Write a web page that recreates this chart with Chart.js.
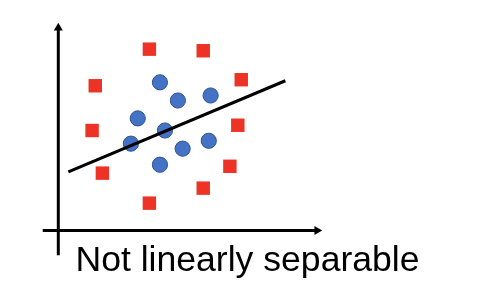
<!DOCTYPE html>
<html>
<head>
<meta charset="utf-8">
<script src="https://cdn.jsdelivr.net/npm/chart.js@4"></script>
<style>
  html, body { margin: 0; padding: 0; background: #ffffff; }
  #wrap { width: 482px; height: 308px; }
</style>
</head>
<body>
<div id="wrap"><canvas id="grafico" width="482" height="308"></canvas></div>
<script>
// Pontos da classe "quadrado" (vermelho)
const quadradosX = [3.45, 5.49, 6.93, 1.40, 1.28, 6.80, 6.50, 1.67, 5.49, 3.45];
const quadradosY = [6.89, 6.83, 5.73, 5.50, 3.80, 4.00, 2.44, 2.18, 1.61, 1.04];

// Pontos da classe "círculo" (azul)
const circulosX = [3.85, 4.53, 5.77, 3.01, 4.04, 2.75, 4.71, 5.70, 3.85];
const circulosY = [5.63, 4.94, 5.13, 4.26, 3.80, 3.30, 3.11, 3.41, 2.50];

// Reta separadora (dois extremos)
const retaX = [0.38, 8.60];
const retaY = [2.23, 5.69];

// Eixos desenhados à mão (início, ponta da seta)
const eixoHorizX = [-0.59, 9.80];
const eixoVertY = [-0.94, 7.70];

// Faixa das escalas
const limitesX = [-1.716, 16.05];
const limitesY = [-0.371, 8.758];

const titulo = 'Not linearly separable';

function pares(xs, ys) {
    return xs.map((x, i) => ({ x: x, y: ys[i] }));
}

function createChart() {
    const ctx = document.getElementById('grafico').getContext('2d');

    new Chart(ctx, {
        type: 'scatter',
        data: {
            datasets: [
                {
                    label: 'Reta',
                    data: pares(retaX, retaY),
                    showLine: true,
                    borderColor: '#000000',
                    borderWidth: 3,
                    pointRadius: 0,
                    clip: false
                },
                {
                    label: 'Eixo X',
                    data: pares(eixoHorizX, [0, 0]),
                    showLine: true,
                    borderColor: '#000000',
                    borderWidth: 3,
                    pointStyle: 'triangle',
                    rotation: 90,
                    pointRadius: [0, 5.2],
                    pointBackgroundColor: '#000000',
                    pointBorderWidth: 0,
                    clip: false
                },
                {
                    label: 'Eixo Y',
                    data: pares([0, 0], eixoVertY),
                    showLine: true,
                    borderColor: '#000000',
                    borderWidth: 3,
                    pointStyle: 'triangle',
                    rotation: 0,
                    pointRadius: [0, 5.2],
                    pointBackgroundColor: '#000000',
                    pointBorderWidth: 0,
                    clip: false
                },
                {
                    label: 'Quadrados',
                    data: pares(quadradosX, quadradosY),
                    pointStyle: 'rect',
                    pointRadius: 9.5,
                    pointBackgroundColor: '#EC3326',
                    pointBorderWidth: 0,
                    clip: false
                },
                {
                    label: 'Círculos',
                    data: pares(circulosX, circulosY),
                    pointStyle: 'circle',
                    pointRadius: 7.6,
                    pointBackgroundColor: '#4472C4',
                    pointBorderColor: '#2F528F',
                    pointBorderWidth: 1,
                    clip: false
                }
            ]
        },
        options: {
            responsive: false,
            animation: false,
            devicePixelRatio: 1,
            layout: {
                autoPadding: false,
                padding: { left: 13, right: 0, top: 0, bottom: 0 }
            },
            plugins: {
                legend: { display: false },
                tooltip: { enabled: false },
                title: {
                    display: true,
                    position: 'bottom',
                    text: titulo,
                    color: '#000000',
                    font: {
                        family: '"Liberation Sans", Arial, sans-serif',
                        size: 35.6,
                        weight: 'normal',
                        lineHeight: 1.2
                    },
                    padding: { top: 0, bottom: 25 }
                }
            },
            scales: {
                x: {
                    type: 'linear',
                    display: false,
                    min: limitesX[0],
                    max: limitesX[1]
                },
                y: {
                    type: 'linear',
                    display: false,
                    min: limitesY[0],
                    max: limitesY[1]
                }
            }
        }
    });
}

window.onload = createChart;
</script>
</body>
</html>
